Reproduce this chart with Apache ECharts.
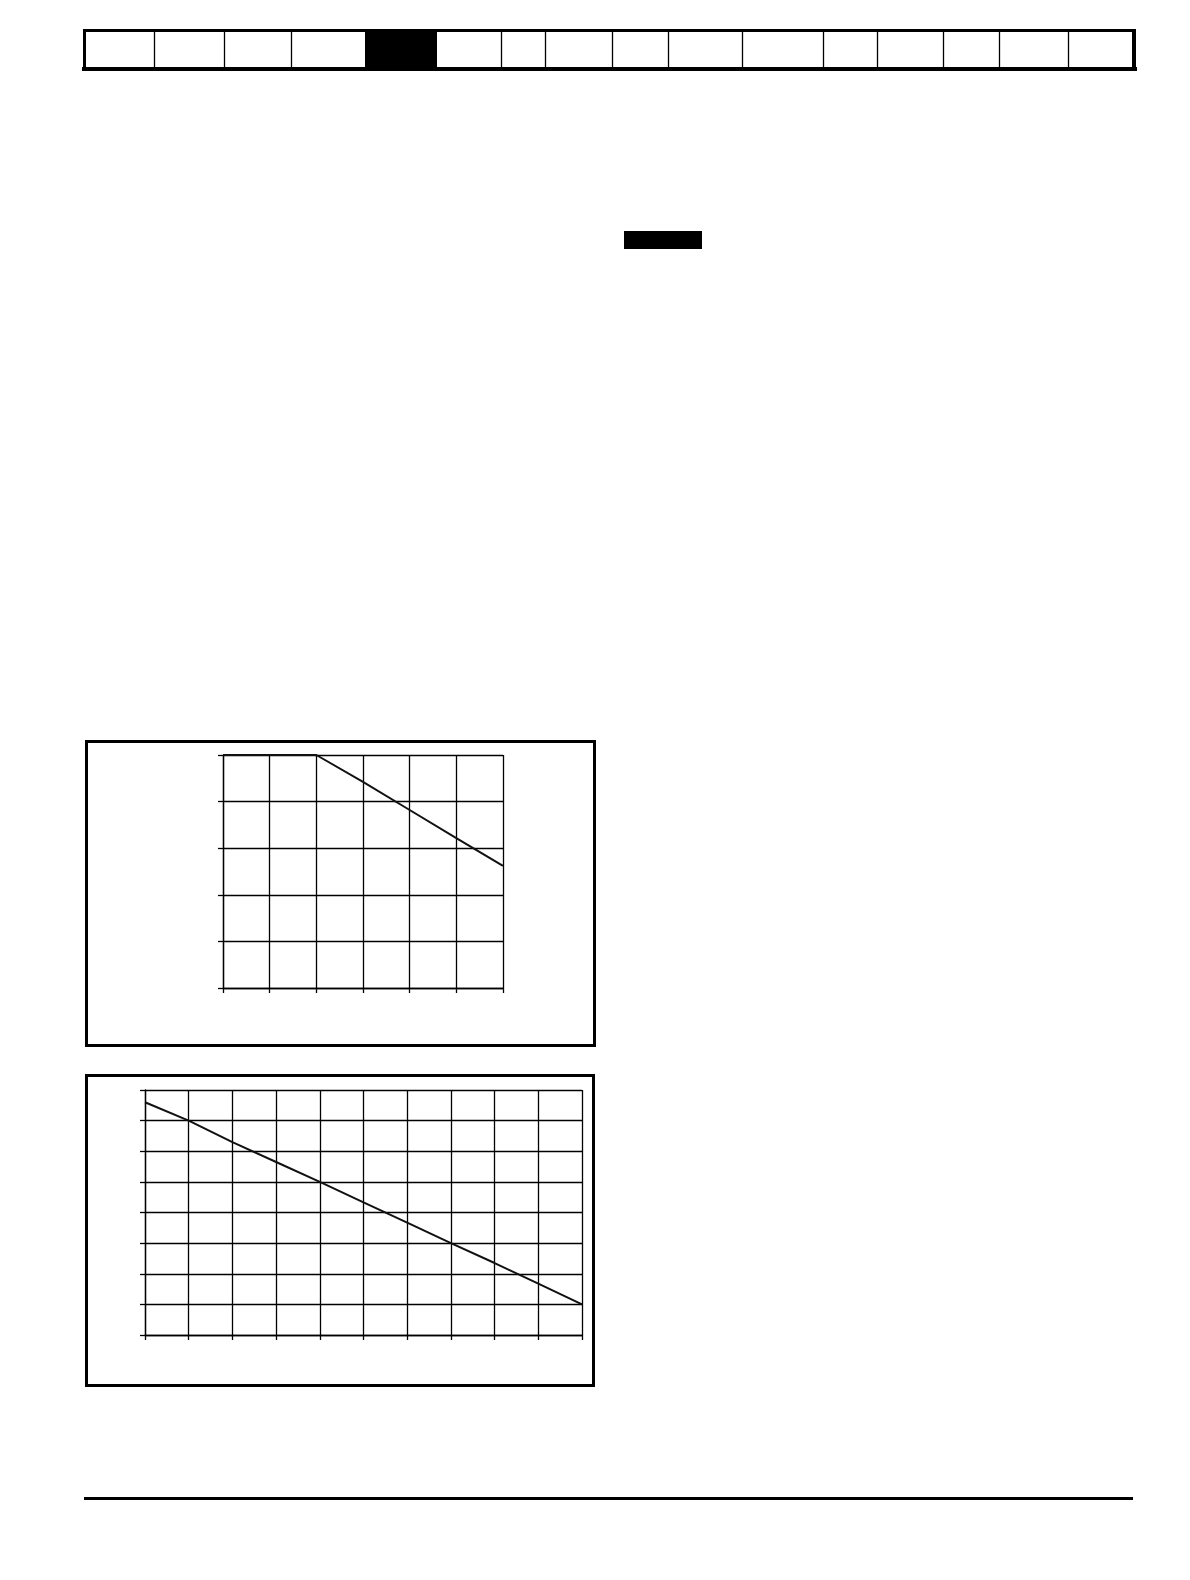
<!DOCTYPE html>
<html>
<head>
<meta charset="utf-8">
<script src="https://cdn.jsdelivr.net/npm/echarts@6/dist/echarts.min.js"></script>
<style>
html,body{margin:0;padding:0;background:#fff;}
#main{width:1190px;height:1580px;}
</style>
</head>
<body>
<div id="main"></div>
<script>
// Chart 1 (upper box): flat then linear decline
var chart1X = [0, 1, 2, 3, 4, 5, 6];
var chart1Y = [100, 100, 100, 88.5, 76.4, 64.3, 52.4];
var chart1XTicks = {min: 0, max: 6, interval: 1};
var chart1YTicks = {min: 0, max: 100, interval: 20};

// Chart 2 (lower box): linear decline
var chart2X = [0, 1, 2, 3, 4, 5, 6, 7, 8, 9, 10];
var chart2Y = [7.6, 7.0, 6.3, 5.65, 5.0, 4.33, 3.67, 3.0, 2.35, 1.68, 1.0];
var chart2XTicks = {min: 0, max: 10, interval: 1};
var chart2YTicks = {min: 0, max: 8, interval: 1};

// Header tab dividers (page decoration)
var headerDividers = [154, 224, 291, 501, 545, 612, 668, 742, 823, 877, 943, 999, 1068];

function pairs(xs, ys){ return xs.map(function(x,i){ return [x, ys[i]]; }); }

var chart = echarts.init(document.getElementById('main'), null, {renderer:'canvas'});

function axisCommon(t){
  return {
    type: 'value', min: t.min, max: t.max, interval: t.interval,
    axisLine: {show: true, onZero: false, lineStyle: {color: '#000', width: 1.3}},
    axisTick: {show: true, length: 5, lineStyle: {color: '#000', width: 1.3}},
    axisLabel: {show: false},
    splitLine: {show: true, lineStyle: {color: '#000', width: 1.3}}
  };
}

var graphics = [];
// header
graphics.push({type:'rect', shape:{x:83, y:29, width:1053, height:3}, style:{fill:'#000'}});
graphics.push({type:'rect', shape:{x:82, y:67, width:1055, height:4}, style:{fill:'#000'}});
graphics.push({type:'rect', shape:{x:83, y:29, width:3, height:42}, style:{fill:'#000'}});
graphics.push({type:'rect', shape:{x:1132, y:29, width:4, height:42}, style:{fill:'#000'}});
graphics.push({type:'rect', shape:{x:365, y:31, width:72, height:37}, style:{fill:'#000'}});
headerDividers.forEach(function(x){
  graphics.push({type:'line', shape:{x1:x+0.5, y1:31, x2:x+0.5, y2:68}, style:{stroke:'#000', lineWidth:1.3}});
});
// small black label block
graphics.push({type:'rect', shape:{x:624, y:231, width:78, height:18}, style:{fill:'#000'}});
// chart boxes
graphics.push({type:'rect', shape:{x:86.5, y:741.5, width:508, height:304}, style:{fill:null, stroke:'#000', lineWidth:3}});
graphics.push({type:'rect', shape:{x:86.5, y:1075.5, width:507, height:310}, style:{fill:null, stroke:'#000', lineWidth:3}});
// footer rule
graphics.push({type:'rect', shape:{x:84, y:1497, width:1049, height:3}, style:{fill:'#000'}});

var option = {
  backgroundColor: '#fff',
  animation: false,
  grid: [
    {left: 223, top: 755, width: 280, height: 233, show: false},
    {left: 145, top: 1090, width: 437, height: 245, show: false}
  ],
  xAxis: [
    Object.assign(axisCommon(chart1XTicks), {gridIndex: 0}),
    Object.assign(axisCommon(chart2XTicks), {gridIndex: 1})
  ],
  yAxis: [
    Object.assign(axisCommon(chart1YTicks), {gridIndex: 0}),
    Object.assign(axisCommon(chart2YTicks), {gridIndex: 1})
  ],
  series: [
    {type:'line', xAxisIndex:0, yAxisIndex:0, data: pairs(chart1X, chart1Y), showSymbol:false, symbol:'none',
     lineStyle:{color:'#111', width:2}, z:5},
    {type:'line', xAxisIndex:1, yAxisIndex:1, data: pairs(chart2X, chart2Y), showSymbol:false, symbol:'none',
     lineStyle:{color:'#111', width:2}, z:5}
  ],
  graphic: graphics
};
chart.setOption(option);
</script>
</body>
</html>
